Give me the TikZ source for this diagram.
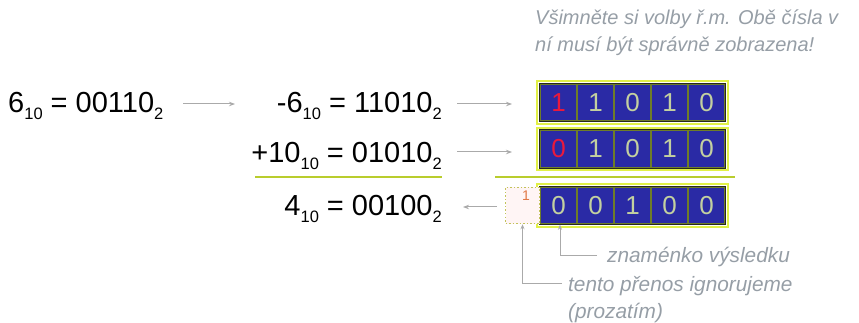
\documentclass[tikz,border=0pt]{standalone}
\usepackage{fontspec}
\setmainfont{Liberation Sans}
\usetikzlibrary{arrows.meta}
\definecolor{cellblue}{RGB}{42,42,165}
\definecolor{cellline}{RGB}{110,125,40}
\definecolor{glow}{RGB}{225,240,70}
\definecolor{darkedge}{RGB}{40,40,30}
\definecolor{celltext}{RGB}{195,208,160}
\definecolor{signred}{RGB}{235,25,60}
\definecolor{sepline}{RGB}{185,205,45}
\definecolor{arrgrey}{RGB}{170,170,170}
\definecolor{notegrey}{RGB}{150,158,166}
\definecolor{carryfill}{RGB}{255,245,245}
\definecolor{carrydot}{RGB}{195,195,90}
\definecolor{carrytext}{RGB}{225,120,70}
\newcommand\subs[1]{\raisebox{-7pt}{\fontsize{16.5}{16.5}\selectfont #1}}
\begin{document}
\begin{tikzpicture}[x=1pt,y=-1pt,
  eq/.style={font=\fontsize{29}{29}\selectfont, inner sep=0pt},
  cell/.style={draw=cellline, fill=cellblue, line width=1.5pt, minimum width=37pt,
    minimum height=37pt, inner sep=0pt, text=celltext, font=\fontsize{26}{26}\selectfont},
  arr/.style={draw=arrgrey, line width=1pt, -{Stealth[length=6pt,width=4.5pt]}},
  note/.style={font=\fontsize{20}{20}\selectfont\itshape, text=notegrey, inner sep=0pt},
  bignote/.style={note, font=\fontsize{20.8}{20.8}\selectfont\itshape},
  annarr/.style={draw=arrgrey, line width=1pt, -{Stealth[length=5pt,width=4pt]}},
  sep/.style={draw=sepline, line width=1.2pt}
]
\useasboundingbox (0,0) rectangle (859,323);

% equations
\node[eq, anchor=base west] (eqa) at (8,113) {6\subs{10} = 00110\subs{2}};
\node[eq, anchor=base east] (eqb) at (442,113) {-6\subs{10} = 11010\subs{2}};
\node[eq, anchor=base east] (eqc) at (442,163) {+10\subs{10} = 01010\subs{2}};
\node[eq, anchor=base east] (eqd) at (442,215) {4\subs{10} = 00100\subs{2}};

% cell rows
\foreach \r/\y/\col/\a/\b/\c/\d/\e in {1/102.5/signred/1/1/0/1/0, 2/149/signred/0/1/0/1/0, 3/205.5/celltext/0/0/1/0/0}{
  \node[cell, text=\col] (r\r c1) at (558.5,\y) {\a};
  \node[cell] (r\r c2) at (595.5,\y) {\b};
  \node[cell] (r\r c3) at (632.5,\y) {\c};
  \node[cell] (r\r c4) at (669.5,\y) {\d};
  \node[cell] (r\r c5) at (706.5,\y) {\e};
  \draw[glow, line width=2pt] ([shift={(-1.8,-1.8)}]r\r c1.north west) rectangle ([shift={(1.8,1.8)}]r\r c5.south east);
  \draw[darkedge, line width=0.8pt] (r\r c1.north west) rectangle (r\r c5.south east);
}

% carry box
\node[draw=carrydot, dotted, line width=1.5pt, fill=carryfill, minimum width=34pt, minimum height=36pt, inner sep=0pt] (carry) at (522.5,205.5) {};
\node[text=carrytext, font=\fontsize{14}{14}\selectfont, inner sep=0pt] (carryone) at (526,196) {1};

% separators
\coordinate (sl1) at (255,177); \coordinate (sl2) at (442,177);
\coordinate (sr1) at (495,177); \coordinate (sr2) at (735,177);
\draw[sep] (sl1) -- (sl2);
\draw[sep] (sr1) -- (sr2);

% arrows
\coordinate (a1) at (183,104); \coordinate (a2) at (235,104);
\coordinate (b1) at (457,104); \coordinate (b2) at (512,104);
\coordinate (c1) at (457,152); \coordinate (c2) at (512,152);
\coordinate (d1) at (497,207); \coordinate (d2) at (463,207);
\draw[arr] (a1) -- (a2);
\draw[arr] (b1) -- (b2);
\draw[arr] (c1) -- (c2);
\draw[arr] (d1) -- (d2);

% notes
\node[note, anchor=base west] (n1) at (535,25) {Všimněte si volby ř.m. Obě čísla v};
\node[note, anchor=base west] (n2) at (535,52) {ní musí být správně zobrazena!};
\node[bignote, anchor=base west] (zn) at (607,262) {znaménko výsledku};
\node[bignote, anchor=base west] (tento) at (568,291) {tento přenos ignorujeme};
\node[bignote, anchor=base west] (proz) at (568,318) {(prozatím)};

\coordinate (zs) at (597,255);
\coordinate (ts) at (562,283);
\draw[annarr] (zs) -| ([xshift=1.5pt]r3c1.south);
\draw[annarr] (ts) -| (carry.south);
\end{tikzpicture}
\end{document}
